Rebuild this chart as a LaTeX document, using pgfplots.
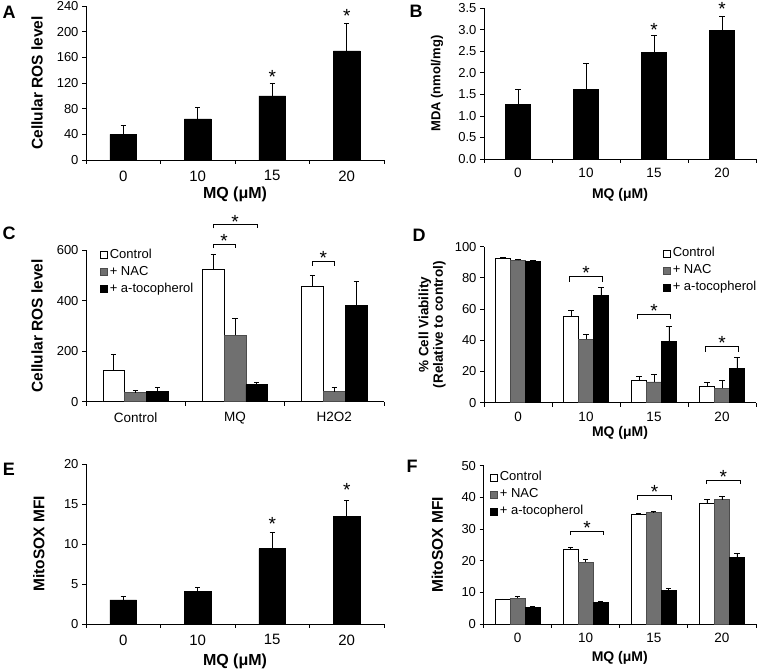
\documentclass[border=0pt]{standalone}
\usepackage{fontspec}
\setmainfont{Liberation Sans}
\usepackage{pgfplots}
\pgfplotsset{compat=1.18}
\definecolor{bargray}{RGB}{112,112,112}
\tikzset{sig/.style={font=\fontsize{19}{19}\selectfont, inner sep=0pt, anchor=center, yshift=-1pt}}
\pgfplotsset{
  panel/.style={
    scale only axis,
    axis x line*=bottom, axis y line*=left,
    axis line style={-, line width=0.8pt, black},
    tick align=outside,
    major tick length=4pt,
    tick style={black, line width=0.8pt},
    xmin=-0.5, xmax=3.5, ymin=0,
    xtick={-0.5,0.5,1.5,2.5,3.5},
    x tick label as interval,
    xticklabels={0,10,15,20},
    /pgf/number format/assume math mode=true,
    yticklabel style={font=\fontsize{13}{13}\selectfont},
    xticklabel style={font=\fontsize{15}{15}\selectfont, yshift=-3pt},
    xlabel style={font=\fontsize{16}{16}\selectfont\bfseries},
    ylabel style={font=\fontsize{15.5}{15.5}\selectfont\bfseries},
    ybar, bar width=0.36,
    clip=false,
    legend image code/.code={\draw[#1] (0pt,-3.5pt) rectangle (7pt,3.5pt);},
    legend cell align=left,
  },
  narrow/.style={xticklabel style={font=\fontsize{13.5}{13.5}\selectfont, yshift=1pt},
    xlabel style={font=\fontsize{14}{14}\selectfont\bfseries}},
  errs/.style={error bars/.cd, y dir=plus, y explicit,
    error bar style={line width=0.8pt,black},
    error mark options={rotate=90, mark size=2.6pt, line width=0.8pt, black}},
  lgd/.style={legend style={at={(axis description cs:#1)}, anchor=north west, draw=none, fill=none,
    font=\fontsize{13}{13}\selectfont, inner sep=0pt, row sep=5pt, column sep=2pt,
    nodes={inner sep=0pt, text height=9pt, text depth=3pt}}},
  wbar/.style={fill=white, draw=black, line width=0.6pt},
  gbar/.style={fill=bargray, draw=black!70, line width=0.6pt},
  kbar/.style={fill=black, draw=black, line width=0.6pt},
}
\begin{document}
\begin{tikzpicture}
\useasboundingbox (0,0) rectangle (758pt,669pt);
% ---------- A ----------
\begin{axis}[panel, at={(86pt,509pt)}, anchor=south west, width=298pt, height=154pt,
  ymax=240, ytick={0,40,...,240},
  ylabel={Cellular ROS level}, xlabel={MQ (μM)},
  ylabel style={at={(axis description cs:-0.164,0.5)},anchor=center},
  xlabel style={at={(axis description cs:0.5,-0.22)},anchor=center}]
\addplot[kbar, errs] coordinates {(0,40)+-(0,14) (1,64)+-(0,18) (2,100)+-(0,20) (3,170)+-(0,43)};
\node[sig] at (axis cs:2,131) {*};
\node[sig] at (axis cs:3,226) {*};
\end{axis}
% ---------- B ----------
\begin{axis}[panel, narrow, at={(484pt,510pt)}, anchor=south west, width=272pt, height=150.7pt,
  ymax=3.5, ytick={0,0.5,1,1.5,2,2.5,3,3.5},
  yticklabel style={/pgf/number format/fixed, /pgf/number format/fixed zerofill, /pgf/number format/precision=1},
  ylabel={MDA (nmol/mg)}, xlabel={MQ (μM)},
  ylabel style={font=\fontsize{13}{13}\selectfont\bfseries, at={(axis description cs:-0.173,0.5)},anchor=center},
  xlabel style={at={(axis description cs:0.5,-0.239)},anchor=center}]
\addplot[kbar, errs] coordinates {(0,1.27)+-(0,0.34) (1,1.62)+-(0,0.59) (2,2.48)+-(0,0.40) (3,2.98)+-(0,0.33)};
\node[sig] at (axis cs:2,3.03) {*};
\node[sig] at (axis cs:3,3.50) {*};
\end{axis}
% ---------- C ----------
\begin{axis}[panel, at={(86pt,267.3pt)}, anchor=south west, width=298pt, height=151.7pt,
  xmax=2.5, xtick={-0.5,0.5,1.5,2.5}, xticklabels={Control,MQ,H2O2},
  xticklabel style={font=\fontsize{13.5}{13.5}\selectfont},
  ymax=600, ytick={0,200,400,600}, bar width=0.22,
  ylabel={Cellular ROS level},
  ylabel style={at={(axis description cs:-0.164,0.5)},anchor=center},
  lgd={0.047,1.007}]
\addplot[wbar, bar shift=-0.22, errs] coordinates {(0,125)+-(0,62) (1,525)+-(0,57) (2,455)+-(0,46)};
\addplot[gbar, bar shift=0, errs] coordinates {(0,36)+-(0,10) (1,262)+-(0,66) (2,40)+-(0,17)};
\addplot[kbar, bar shift=0.22, errs] coordinates {(0,42)+-(0,13) (1,68)+-(0,10) (2,381)+-(0,94)};
\legend{Control,+ NAC,+ a-tocopherol}
\draw[line width=0.7pt] (axis cs:0.78,607) -- (axis cs:0.78,623) -- (axis cs:1.0,623) -- (axis cs:1.0,607);
\draw[line width=0.7pt] (axis cs:0.78,686) -- (axis cs:0.78,702) -- (axis cs:1.22,702) -- (axis cs:1.22,686);
\draw[line width=0.7pt] (axis cs:1.78,538) -- (axis cs:1.78,554) -- (axis cs:2.0,554) -- (axis cs:2.0,538);
\node[sig] at (axis cs:0.89,640) {*};
\node[sig] at (axis cs:1.0,715) {*};
\node[sig] at (axis cs:1.89,574) {*};
\end{axis}
% ---------- D ----------
\begin{axis}[panel, narrow, at={(484pt,266.3pt)}, anchor=south west, width=272pt, height=156pt,
  ymax=100, ytick={0,20,...,100}, bar width=0.22,
  ylabel={\% Cell Viability\\(Relative to control)}, xlabel={MQ (μM)},
  ylabel style={align=center, font=\fontsize{13.5}{14.5}\selectfont\bfseries, at={(axis description cs:-0.191,0.5)},anchor=center},
  xlabel style={at={(axis description cs:0.5,-0.191)},anchor=center},
  lgd={0.658,0.996}]
\addplot[wbar, bar shift=-0.22, errs] coordinates {(0,92.5)+-(0,0.7) (1,55.1)+-(0,4.3) (2,14.1)+-(0,2.6) (3,10.3)+-(0,2.5)};
\addplot[gbar, bar shift=0, errs] coordinates {(0,91.3)+-(0,0.5) (1,40.6)+-(0,3.4) (2,13.3)+-(0,4.9) (3,9.2)+-(0,4.9)};
\addplot[kbar, bar shift=0.22, errs] coordinates {(0,90.5)+-(0,0.5) (1,68.8)+-(0,4.9) (2,39.5)+-(0,9.2) (3,21.8)+-(0,7.0)};
\legend{Control,+ NAC,+ a-tocopherol}
\draw[line width=0.7pt] (axis cs:0.76,77.6) -- (axis cs:0.76,80.8) -- (axis cs:1.24,80.8) -- (axis cs:1.24,77.6);
\draw[line width=0.7pt] (axis cs:1.76,53.5) -- (axis cs:1.76,56.7) -- (axis cs:2.24,56.7) -- (axis cs:2.24,53.5);
\draw[line width=0.7pt] (axis cs:2.76,32.7) -- (axis cs:2.76,35.9) -- (axis cs:3.24,35.9) -- (axis cs:3.24,32.7);
\node[sig] at (axis cs:1.0,84) {*};
\node[sig] at (axis cs:2.0,59.4) {*};
\node[sig] at (axis cs:3.0,39.2) {*};
\end{axis}
% ---------- E ----------
\begin{axis}[panel, at={(86pt,45pt)}, anchor=south west, width=298pt, height=160pt,
  ymax=20, ytick={0,5,...,20},
  ylabel={MitoSOX MFI}, xlabel={MQ (μM)},
  ylabel style={at={(axis description cs:-0.158,0.5)},anchor=center},
  xlabel style={at={(axis description cs:0.5,-0.234)},anchor=center}]
\addplot[kbar, errs] coordinates {(0,3.0)+-(0,0.45) (1,4.1)+-(0,0.45) (2,9.4)+-(0,2.0) (3,13.4)+-(0,2.0)};
\node[sig] at (axis cs:2,12.6) {*};
\node[sig] at (axis cs:3,16.9) {*};
\end{axis}
% ---------- F ----------
\begin{axis}[panel, narrow, at={(483.5pt,45pt)}, anchor=south west, width=272.5pt, height=158.3pt,
  ymax=50, ytick={0,10,...,50}, bar width=0.22,
  ylabel={MitoSOX MFI}, xlabel={MQ (μM)},
  ylabel style={at={(axis description cs:-0.169,0.5)},anchor=center},
  xlabel style={at={(axis description cs:0.5,-0.215)},anchor=center},
  lgd={0.024,0.965}]
\addplot[wbar, bar shift=-0.22, errs] coordinates {(0,7.7)+-(0,0.2) (1,23.5)+-(0,0.8) (2,34.7)+-(0,0.3) (3,38.1)+-(0,1.3)};
\addplot[gbar, bar shift=0, errs] coordinates {(0,8.1)+-(0,0.7) (1,19.5)+-(0,0.8) (2,35.2)+-(0,0.3) (3,39.3)+-(0,1.0)};
\addplot[kbar, bar shift=0.22, errs] coordinates {(0,5.2)+-(0,0.4) (1,6.8)+-(0,0.3) (2,10.5)+-(0,0.9) (3,21.0)+-(0,1.3)};
\legend{Control,+ NAC,+ a-tocopherol}
\draw[line width=0.7pt] (axis cs:0.78,28.1) -- (axis cs:0.78,29.4) -- (axis cs:1.26,29.4) -- (axis cs:1.26,28.1);
\draw[line width=0.7pt] (axis cs:1.76,39.2) -- (axis cs:1.76,40.5) -- (axis cs:2.26,40.5) -- (axis cs:2.26,39.2);
\draw[line width=0.7pt] (axis cs:2.77,44.2) -- (axis cs:2.77,45.5) -- (axis cs:3.27,45.5) -- (axis cs:3.27,44.2);
\node[sig] at (axis cs:1.02,30.8) {*};
\node[sig] at (axis cs:2.01,42.0) {*};
\node[sig] at (axis cs:3.02,46.9) {*};
\end{axis}
% ---------- panel letters ----------
\begin{scope}[every node/.style={font=\fontsize{18}{18}\selectfont\bfseries, inner sep=0pt, anchor=center}]
\node at (9pt,657pt) {A};
\node at (416pt,658pt) {B};
\node at (9pt,435.5pt) {C};
\node at (419pt,434pt) {D};
\node at (9pt,200pt) {E};
\node at (412pt,203pt) {F};
\end{scope}
\end{tikzpicture}
\end{document}
